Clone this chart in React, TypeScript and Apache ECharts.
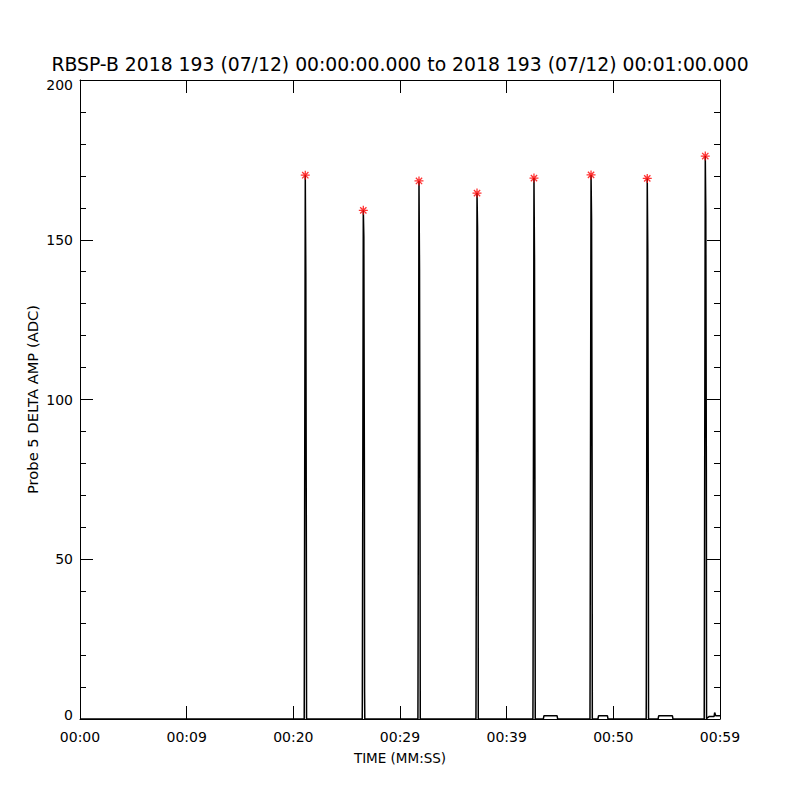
import React, { useEffect, useRef } from "react";
import * as echarts from "echarts";

// Pulse peaks (seconds after 00:00:00, ADC)
const pulseTime = [21.12, 26.56, 31.78, 37.22, 42.56, 47.91, 53.18, 58.62];
const pulsePeak = [170.2, 159.2, 168.4, 164.6, 169.3, 170.3, 169.2, 176.2];
const pulseRise = [13, 6, 12, 10, 8, 12, 9, 14];
const pulseFallHigh = [139.6, 150.9, 140.5, 153.7, 143.7, 156.0, 146.8, 158.7];
const pulseFallLow = [54.5, 78.0, 56.0, 78.0, 59.0, 78.0, 62.0, 78.0];
const pulseTail = [0, 8.5, 0, 0, 0, 0, 0, 0];

// Small baseline bumps
const bumpStart = [43.44, 48.56, 54.2];
const bumpEnd = [44.78, 49.5, 55.59];
const bumpLevel = [1, 1, 1];

// Trailing samples at the end of the interval
const endTime = [58.78, 59.0, 59.45, 59.5, 59.6, 60.0];
const endAmp = [0.3, 0.8, 0.8, 2.0, 1.0, 1.0];

// Axis ticks
const xTickValues = [0, 10, 20, 30, 40, 50, 60];
const xTickLabels = ["00:00", "00:09", "00:20", "00:29", "00:39", "00:50", "00:59"];

const TITLE =
  "RBSP-B 2018 193 (07/12) 00:00:00.000 to 2018 193 (07/12) 00:01:00.000";

function buildTrace(): [number, number][] {
  const pts: [number, number][] = [[0, 0]];
  pulseTime.forEach((t, i) => {
    pts.push([t - 0.1, 0]);
    pts.push([t - 0.09, pulseRise[i]]);
    pts.push([t, pulsePeak[i]]);
    pts.push([t + 0.05, pulseFallHigh[i]]);
    pts.push([t + 0.1, pulseFallLow[i]]);
    pts.push([t + 0.12, pulseTail[i]]);
    pts.push([t + 0.14, 0]);
  });
  bumpStart.forEach((s, i) => {
    const e = bumpEnd[i];
    pts.push([s, 0]);
    pts.push([s + 0.05, bumpLevel[i]]);
    pts.push([e - 0.05, bumpLevel[i]]);
    pts.push([e, 0]);
  });
  endTime.forEach((t, i) => pts.push([t, endAmp[i]]));
  pts.sort((a, b) => a[0] - b[0]);
  return pts;
}

const FONT = "DejaVu Sans";

export default function App() {
  const ref = useRef<HTMLDivElement>(null);
  useEffect(() => {
    if (!ref.current) return;
    const chart = echarts.init(ref.current, null, { renderer: "svg" });
    const axisCommon = {
      axisLine: { show: true, onZero: false, lineStyle: { color: "#000", width: 1 } },
      splitLine: { show: false },
    };
    const tick = { show: true, inside: true, length: 13, lineStyle: { color: "#000" } };
    const minor = { show: true, splitNumber: 5, length: 6, lineStyle: { color: "#000" } };
    chart.setOption({
      animation: false,
      backgroundColor: "#fff",
      grid: { left: 80, right: 80, top: 80, bottom: 81, containLabel: false },
      graphic: [
        {
          type: "text",
          left: "center",
          top: 55,
          style: {
            text: TITLE,
            fontFamily: FONT,
            fontSize: 18.8,
            fill: "#000",
          },
        },
      ],
      xAxis: [
        {
          type: "value",
          position: "bottom",
          min: 0,
          max: 60,
          interval: 10,
          ...axisCommon,
          axisTick: tick,
          axisLabel: {
            show: true,
            margin: 11,
            color: "#000",
            fontFamily: FONT,
            fontSize: 14,
            formatter: (v: number) => {
              const idx = xTickValues.indexOf(v);
              return idx >= 0 ? xTickLabels[idx] : "";
            },
          },
          name: "TIME (MM:SS)",
          nameLocation: "middle",
          nameGap: 32,
          nameMoveOverlap: false,
          nameTextStyle: { color: "#000", fontFamily: FONT, fontSize: 13.5 },
        },
        {
          type: "value",
          position: "top",
          min: 0,
          max: 60,
          interval: 10,
          ...axisCommon,
          axisTick: tick,
          axisLabel: { show: false },
        },
      ],
      yAxis: [
        {
          type: "value",
          position: "left",
          min: 0,
          max: 200,
          interval: 50,
          ...axisCommon,
          axisTick: tick,
          minorTick: minor,
          axisLabel: {
            show: true,
            margin: 7,
            color: "#000",
            fontFamily: FONT,
            fontSize: 14,
            formatter: (v: number) => {
              if (v === 0) return "{lo|0}";
              if (v === 200) return "{hi|200}";
              return String(v);
            },
            rich: {
              lo: { fontFamily: FONT, fontSize: 14, color: "#000", padding: [0, 0, 9, 0] },
              hi: { fontFamily: FONT, fontSize: 14, color: "#000", padding: [10, 0, 0, 0] },
            },
          },
          name: "Probe 5 DELTA AMP (ADC)",
          nameLocation: "middle",
          nameRotate: 90,
          nameGap: 40,
          nameMoveOverlap: false,
          nameTextStyle: { color: "#000", fontFamily: FONT, fontSize: 14.7 },
        },
        {
          type: "value",
          position: "right",
          min: 0,
          max: 200,
          interval: 50,
          ...axisCommon,
          axisTick: tick,
          minorTick: minor,
          axisLabel: { show: false },
        },
      ],
      series: [
        {
          type: "line",
          xAxisIndex: 0,
          yAxisIndex: 0,
          data: buildTrace(),
          showSymbol: false,
          symbol: "none",
          lineStyle: { color: "#000", width: 1.5 },
          silent: true,
          z: 2,
        },
        {
          type: "scatter",
          xAxisIndex: 0,
          yAxisIndex: 0,
          data: pulseTime.map((t, i) => [t, pulsePeak[i]]),
          symbol:
            "path://M4,0L4,8M0,4L8,4M1.2,1.2L6.8,6.8M6.8,1.2L1.2,6.8",
          symbolSize: 9,
          itemStyle: { color: "none", borderColor: "#ff0000", borderWidth: 1.3 },
          silent: true,
          z: 3,
        },
      ],
    });
    return () => chart.dispose();
  }, []);
  return <div ref={ref} style={{ width: 800, height: 800, position: "absolute", left: 0, top: 0 }} />;
}
